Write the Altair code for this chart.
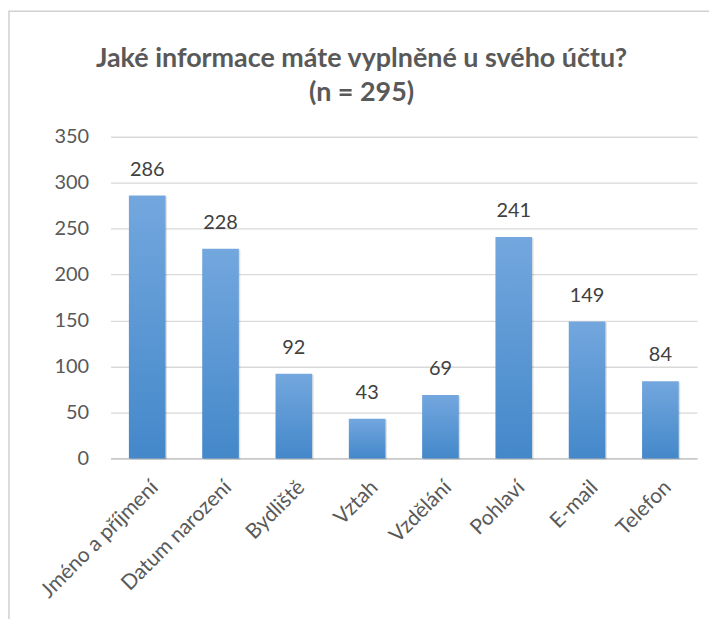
import altair as alt
import pandas as pd

categories = ["Jméno a příjmení", "Datum narození", "Bydliště", "Vztah",
              "Vzdělání", "Pohlaví", "E-mail", "Telefon"]
values = [286, 228, 92, 43, 69, 241, 149, 84]
y_ticks = [0, 50, 100, 150, 200, 250, 300, 350]
title_lines = ["Jaké informace máte vyplněné u svého účtu?", "(n = 295)"]

df = pd.DataFrame({"cat": categories, "val": values})

FONT = "Lato"
W, H = 589, 323

x_enc = alt.X("cat:N", sort=categories, title=None,
              scale=alt.Scale(paddingInner=0.5, paddingOuter=0.25),
              axis=alt.Axis(labelAngle=-45, labelAlign="right", labelBaseline="top",
                            labelFontSize=21, labelColor="#595959", labelFont=FONT,
                            ticks=False, domainColor="#bfbfbf", domainWidth=1.5,
                            labelPadding=18, grid=False))
y_enc = alt.Y("val:Q", title=None,
              scale=alt.Scale(domain=[0, 350], nice=False),
              axis=alt.Axis(values=y_ticks, labelFontSize=20, labelColor="#595959",
                            labelFont=FONT, ticks=False, domain=False,
                            gridColor="#d9d9d9", gridWidth=1.3, labelPadding=22))

grad = alt.Gradient(gradient="linear",
                    stops=[alt.GradientStop(color="#73a7de", offset=0),
                           alt.GradientStop(color="#4488ca", offset=1)],
                    x1=0, x2=0, y1=0, y2=1)

frame = alt.Chart(pd.DataFrame({"k": [0]})).mark_rect(
    fill="white", fillOpacity=0, stroke="#d0d0d0", strokeWidth=1.5).encode(
    x=alt.value(-102), x2=alt.value(640), y=alt.value(-126), y2=alt.value(520))

t1 = alt.Chart(pd.DataFrame({"t": [title_lines[0]]})).mark_text(
    fontSize=27, fontWeight="bold", color="#595959", font=FONT,
    baseline="alphabetic", align="center").encode(
    text="t:N", x=alt.value(252), y=alt.value(-70))
t2 = alt.Chart(pd.DataFrame({"t": [title_lines[1]]})).mark_text(
    fontSize=27, fontWeight="bold", color="#595959", font=FONT,
    baseline="alphabetic", align="center").encode(
    text="t:N", x=alt.value(252), y=alt.value(-36))

shadow = alt.Chart(df).mark_bar(color="#000000", opacity=0.12, xOffset=1.5,
                                yOffset=1).encode(x=x_enc, y=y_enc)

bars = alt.Chart(df).mark_bar(color=grad).encode(x=x_enc, y=y_enc)

labels = alt.Chart(df).mark_text(dy=-26, fontSize=20, color="#404040",
                                 font=FONT).encode(
    x=alt.X("cat:N", sort=categories), y="val:Q", text="val:Q")

chart = alt.layer(frame, shadow, bars, labels, t1, t2).properties(
    width=W, height=H,
    autosize=alt.AutoSizeParams(type="none"),
    padding={"left": 103, "top": 128, "right": 12, "bottom": 160},
).configure_view(stroke=None)

chart.save("out.html", embed_options={"renderer": "svg", "actions": False})
